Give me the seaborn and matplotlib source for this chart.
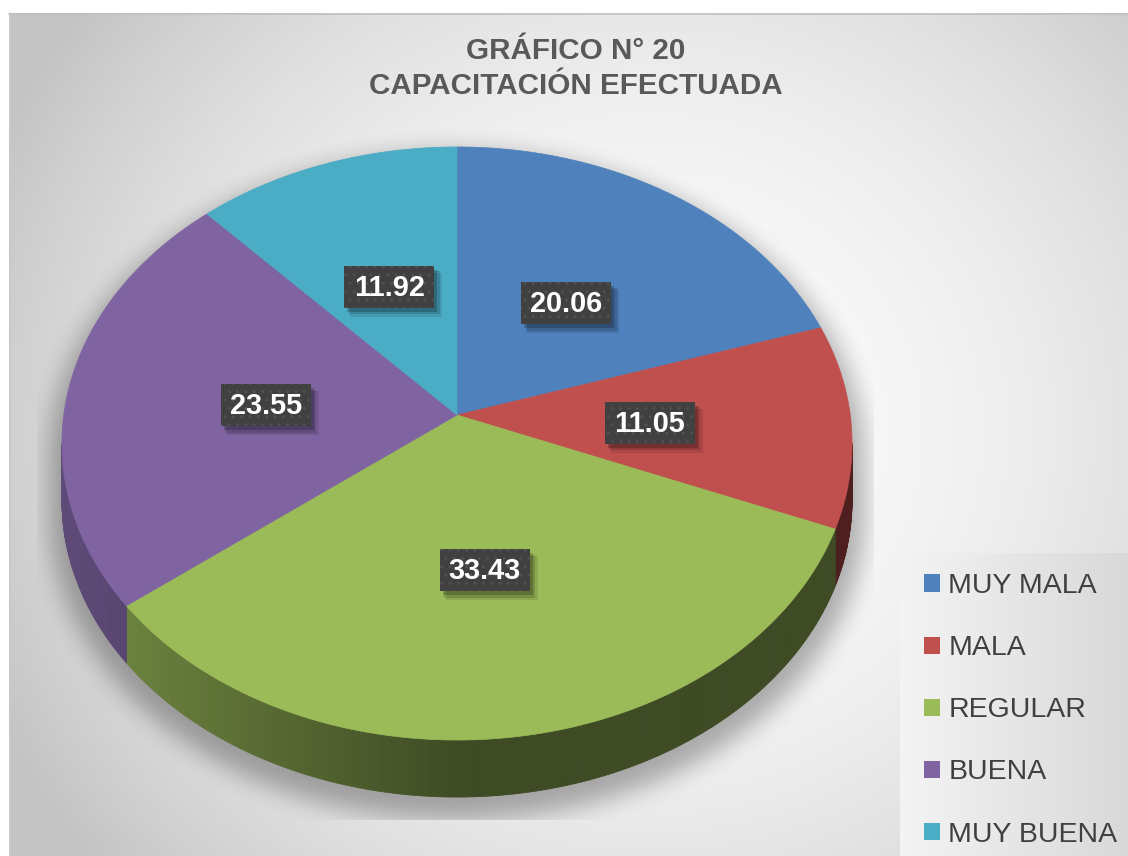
import numpy as np
import matplotlib
matplotlib.use("Agg")
import matplotlib.pyplot as plt
from matplotlib.patches import Polygon, Rectangle, Patch
from matplotlib.collections import PolyCollection
import seaborn as sns

# ---------------- data ----------------
TITLE_LINES = ["GRÁFICO N° 20", "CAPACITACIÓN EFECTUADA"]
CATEGORIES = ["MUY MALA", "MALA", "REGULAR", "BUENA", "MUY BUENA"]
VALUES = [20.06, 11.05, 33.43, 23.55, 11.92]
VALUE_LABELS = ["20.06", "11.05", "33.43", "23.55", "11.92"]
TOP_COLORS = ["#4f81bd", "#c0504d", "#9bbb59", "#8064a2", "#4bacc6"]

sns.set_theme(style="white")
plt.rcParams["font.family"] = ["Liberation Sans", "DejaVu Sans"]
palette = sns.color_palette(TOP_COLORS)

W, H = 1128, 856
fig = plt.figure(figsize=(W / 100, H / 100), dpi=100)
ax = fig.add_axes([0, 0, 1, 1])
ax.set_xlim(0, W)
ax.set_ylim(H, 0)
ax.axis("off")

# ---------------- background ----------------
yy, xx = np.mgrid[0:H, 0:W] + 0.5
d = np.sqrt((xx - 650) ** 2 + ((yy - 430) / 0.95) ** 2)
t = np.clip(d / 720.0, 0, 1) ** 2
g = (252 - (252 - 196) * t) / 255.0
bg = np.dstack([g, g, g])
bg[(xx < 9) | (yy < 13)] = 1.0
ax.imshow(bg, extent=(0, W, H, 0), zorder=0, interpolation="bilinear", aspect="auto")
ax.plot([9, W], [13.5, 13.5], color="#c0c0c0", lw=1.2, zorder=0.5)
ax.plot([9.5, 9.5], [13, H], color="#c8c8c8", lw=1.2, zorder=0.5)

# legend background panel
lx0, ly0 = 900, 553
lg = np.linspace(0.955, 0.85, W - lx0)[None, :].repeat(H - ly0, axis=0)
ax.imshow(np.dstack([lg, lg, lg]), extent=(lx0, W, H, ly0), zorder=0.6,
          interpolation="bilinear", aspect="auto")

# ---------------- pie geometry (perspective) ----------------
CX, CY = 457.0, 415.0
A, B, K = 393.2, 293.8, 0.0961
DEPTH = 57.0


def proj(theta, r=1.0):
    u = r * np.cos(theta)
    v = r * np.sin(theta)
    den = 1 + K * v
    return CX + A * u / den, CY - B * v / den


# ---------------- shadow ----------------
rx = A / np.sqrt(1 - K ** 2)
ecy = 0.5 * ((CY - B / (1 + K)) + (CY + B / (1 - K)))
ry = 0.5 * ((CY + B / (1 - K)) - (CY - B / (1 + K)))


def blur1d(a, r, axis):
    a = np.moveaxis(a, axis, 0)
    p = np.pad(a, ((r + 1, r), (0, 0)), mode="edge")
    c = np.cumsum(p, axis=0)
    out = (c[2 * r + 1:] - c[:-2 * r - 1]) / (2 * r + 1)
    return np.moveaxis(out, 0, axis)


sx = (xx - CX) / (rx * 1.03)
inside_x = np.abs(sx) <= 1
half = ry * 1.03 * np.sqrt(np.clip(1 - sx ** 2, 0, 1))
sh_top = ecy + 14 - half
sh_bot = ecy + 14 + DEPTH + half
mask = (inside_x & (yy >= sh_top) & (yy <= sh_bot)).astype(float)
for _ in range(3):
    mask = blur1d(blur1d(mask, 11, 0), 11, 1)
mask[(xx < 37) | (xx > 874) | (yy > 820)] = 0
shadow = np.zeros((H, W, 4))
shadow[..., 3] = 0.30 * mask
ax.imshow(shadow, extent=(0, W, H, 0), zorder=1, interpolation="bilinear", aspect="auto")

# ---------------- slices ----------------
vals = np.array(VALUES)
frac = vals / vals.sum()
cum = np.concatenate([[0], np.cumsum(frac)])
starts = np.pi / 2 - 2 * np.pi * cum[:-1]
ends = np.pi / 2 - 2 * np.pi * cum[1:]

a_off = np.arcsin(K)
front_lo, front_hi = -np.pi + a_off, -a_off


def side_factor(x):
    return np.interp(x, [62, 130, 460, 900], [0.74, 0.69, 0.40, 0.40])


# sides
for i in range(len(vals)):
    lo = max(ends[i], front_lo)
    hi = min(starts[i], front_hi)
    if hi <= lo:
        continue
    th = np.linspace(lo, hi, max(3, int((hi - lo) / np.radians(0.5))))
    polys, cols = [], []
    base = np.array(palette[i])
    for j in range(len(th) - 1):
        x1, y1 = proj(th[j])
        x2, y2 = proj(th[j + 1])
        polys.append([(x1, y1), (x2, y2), (x2, y2 + DEPTH), (x1, y1 + DEPTH)])
        cols.append(np.clip(base * side_factor(0.5 * (x1 + x2)), 0, 1))
    pc = PolyCollection(polys, facecolors=cols, edgecolors=cols, linewidths=0.6, zorder=2)
    ax.add_collection(pc)

# top faces
for i in range(len(vals)):
    th = np.linspace(starts[i], ends[i], 200)
    px, py = proj(th)
    pts = np.column_stack([np.r_[CX, px], np.r_[CY, py]])
    ax.add_patch(Polygon(pts, closed=True, facecolor=palette[i], edgecolor=palette[i],
                         lw=0.5, zorder=3))

# ---------------- data labels ----------------
BW, BH = 90, 42
for i in range(len(vals)):
    mid = 0.5 * (starts[i] + ends[i])
    lxp, _ = proj(mid, 0.49)
    _, lyp = proj(mid, 0.5)
    lyp += 2.5
    for k, (o, al) in enumerate([(7, 0.10), (5.5, 0.14), (4, 0.20)]):
        ax.add_patch(Rectangle((lxp - BW / 2 + o - 1, lyp - BH / 2 + o),
                               BW + 2 - k, BH + 2 - k, facecolor="black", alpha=al,
                               lw=0, zorder=4))
    ax.add_patch(Rectangle((lxp - BW / 2, lyp - BH / 2), BW, BH, facecolor="#404040",
                           edgecolor="#505050", hatch="..", lw=0, zorder=5))
    ax.text(lxp, lyp + 1, VALUE_LABELS[i], color="white", fontsize=20.8,
            fontweight="bold", ha="center", va="center", zorder=6)

# ---------------- title ----------------
ax.text(576, 51, TITLE_LINES[0], fontsize=21.3, fontweight="bold", color="#595959",
        ha="center", va="center", zorder=6)
ax.text(576, 86, TITLE_LINES[1], fontsize=21.3, fontweight="bold", color="#595959",
        ha="center", va="center", zorder=6)

# ---------------- legend ----------------
handles = [Patch(facecolor=palette[i], edgecolor="none") for i in range(len(vals))]
leg = ax.legend(handles, CATEGORIES, loc="upper left", bbox_to_anchor=(924, 573),
                bbox_transform=ax.transData, frameon=False, fontsize=20.5,
                handlelength=0.55, handleheight=0.55, handletextpad=0.3,
                labelspacing=1.27, borderpad=0, borderaxespad=0)
for txt in leg.get_texts():
    txt.set_color("#404040")

fig.savefig("out.png", dpi=100)
